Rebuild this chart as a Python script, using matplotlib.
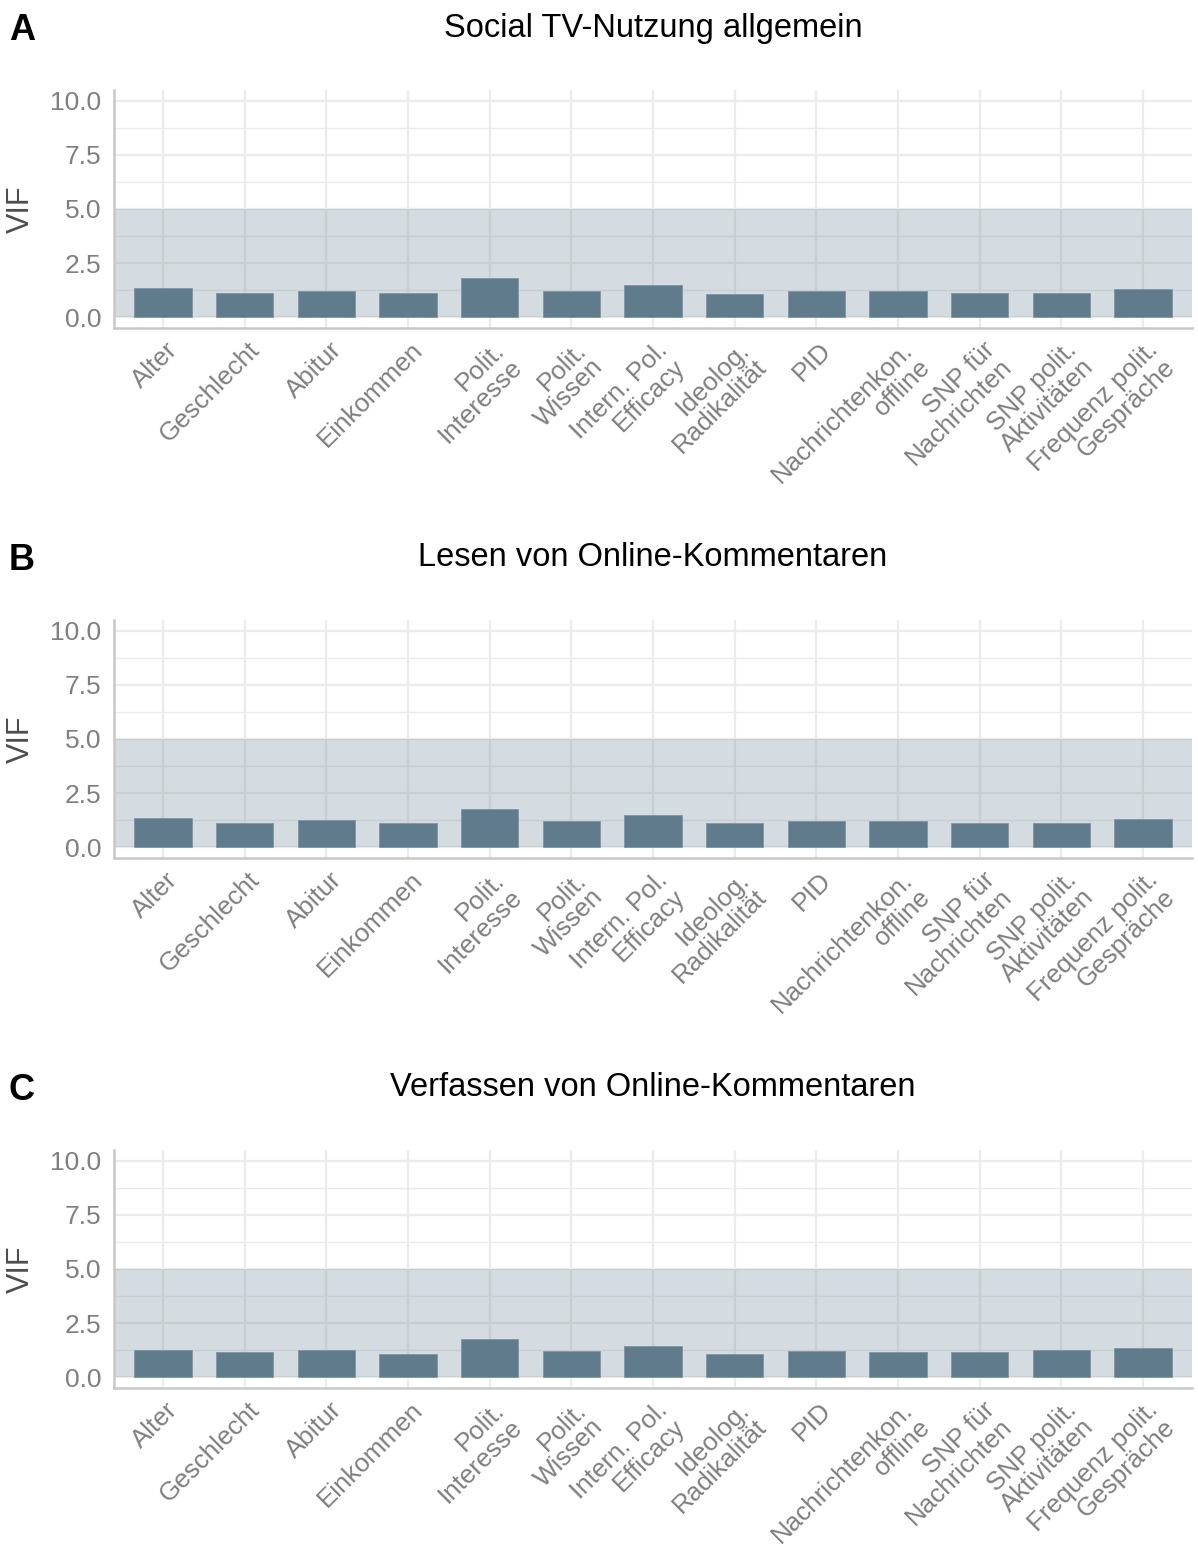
import matplotlib
matplotlib.use("Agg")
import matplotlib.pyplot as plt
import matplotlib.transforms as mtransforms
import numpy as np

plt.rcParams['font.family'] = ['Liberation Sans', 'DejaVu Sans']

categories = ["Alter", "Geschlecht", "Abitur", "Einkommen", "Polit.\nInteresse",
              "Polit.\nWissen", "Intern. Pol.\nEfficacy", "Ideolog.\nRadikalität", "PID",
              "Nachrichtenkon.\noffline", "SNP für\nNachrichten", "SNP polit.\nAktivitäten",
              "Frequenz polit.\nGespräche"]

vif_a = [1.36, 1.14, 1.23, 1.11, 1.83, 1.20, 1.48, 1.06, 1.20, 1.20, 1.14, 1.11, 1.32]
vif_b = [1.36, 1.14, 1.27, 1.11, 1.76, 1.20, 1.47, 1.11, 1.20, 1.20, 1.14, 1.14, 1.30]
vif_c = [1.27, 1.15, 1.24, 1.09, 1.78, 1.21, 1.46, 1.05, 1.21, 1.15, 1.18, 1.24, 1.36]

titles = ["Social TV-Nutzung allgemein", "Lesen von Online-Kommentaren",
          "Verfassen von Online-Kommentaren"]
letters = ["A", "B", "C"]
series = [vif_a, vif_b, vif_c]

major_y = [0.0, 2.5, 5.0, 7.5, 10.0]
minor_y = [1.25, 3.75, 6.25, 8.75]
threshold = 5.0

W, H = 1198, 1551
fig = plt.figure(figsize=(W / 100, H / 100), dpi=100)

bar_color = "#607b8b"
grid_color = "#ebebeb"
text_gray = "#7f7f7f"

left_px, right_px = 114, 1192
panel_tops = [90, 620, 1150]
panel_h = 238

for i, (vals, title, letter) in enumerate(zip(series, titles, letters)):
    top = panel_tops[i]
    bottom = top + panel_h
    ax = fig.add_axes([left_px / W, 1 - bottom / H, (right_px - left_px) / W, panel_h / H])
    x = np.arange(len(categories))
    ax.set_axisbelow(True)
    ax.axhspan(0, threshold, color=bar_color, alpha=0.26, lw=0, zorder=1)
    ax.bar(x, vals, width=0.7, color=bar_color, zorder=3, edgecolor="#7f95a2", linewidth=0.6)
    ax.set_xlim(-0.6, len(categories) - 0.4)
    ax.set_ylim(-0.5, 10.5)
    ax.set_yticks(major_y)
    ax.set_yticks(minor_y, minor=True)
    ax.set_yticklabels([f"{v:.1f}" for v in major_y])
    ax.set_xticks(x)
    ax.set_xticklabels(categories, rotation=45, ha="right", va="top",
                       rotation_mode="anchor", multialignment="right")
    ax.grid(True, which="major", color=grid_color, linewidth=1.6, zorder=0)
    ax.grid(True, which="minor", axis="y", color=grid_color, linewidth=1.0, zorder=0)
    for s in ["top", "right"]:
        ax.spines[s].set_visible(False)
    for s in ["left", "bottom"]:
        ax.spines[s].set_color("#c8c8c8")
        ax.spines[s].set_linewidth(1.8)
    ax.tick_params(axis="both", which="both", length=0)
    ax.tick_params(axis="y", labelsize=19, labelcolor=text_gray, pad=9)
    ax.tick_params(axis="x", labelsize=18.7, labelcolor=text_gray, pad=7)
    offset = mtransforms.ScaledTranslation(2 / 72, 0, fig.dpi_scale_trans)
    for lab in ax.get_xticklabels():
        lab.set_transform(lab.get_transform() + offset)
        lab.set_linespacing(1.0)
    ax.set_ylabel("VIF", fontsize=22, color="#4d4d4d")
    ax.yaxis.set_label_coords((36 - left_px) / (right_px - left_px), 0.5)
    ax.set_facecolor("white")

    fig.text((left_px + right_px) / 2 / W, 1 - (top - 62) / H, title,
             ha="center", va="center", fontsize=23.5, color="black")
    fig.text(22 / W, 1 - (top - 59) / H, letter, ha="center", va="center",
             fontsize=26, fontweight="bold", color="black")

fig.savefig("out.png", dpi=100, facecolor="white")
